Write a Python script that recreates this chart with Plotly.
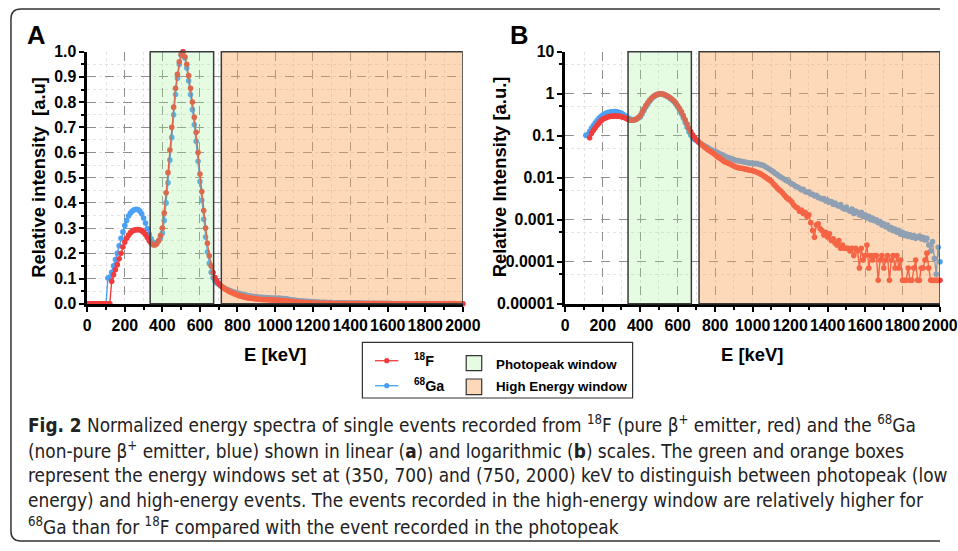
import plotly.graph_objects as go

# ---------------- data ----------------
energy_kev = list(range(0, 2001, 10))

# 18F (red)
f18_zero = [0.0] * 13  # 0..120 keV
f18_rise = [0.089, 0.115, 0.135, 0.155, 0.178, 0.2, 0.225, 0.245, 0.26, 0.272,
            0.282, 0.289, 0.292, 0.293, 0.294, 0.293, 0.29, 0.284, 0.275, 0.263,
            0.25, 0.24, 0.234, 0.233, 0.238, 0.25, 0.27]  # 130..390
f18_peak = [0.30, 0.36, 0.44, 0.52, 0.61, 0.70, 0.78, 0.855, 0.91, 0.96,
            0.99, 1.0, 0.98, 0.95, 0.905, 0.855, 0.8, 0.74, 0.68, 0.6,
            0.515, 0.445, 0.37, 0.3, 0.24, 0.19, 0.15, 0.124, 0.104, 0.09,
            0.08]  # 400..700
f18_tail = [0.072, 0.065, 0.06, 0.055, 0.051, 0.047, 0.044, 0.041, 0.038, 0.035,
            0.032, 0.03, 0.028, 0.026, 0.024, 0.023, 0.022, 0.021, 0.02, 0.019,
            0.018, 0.0175, 0.017, 0.0168, 0.0165, 0.016, 0.0158, 0.0152, 0.015, 0.0146,
            0.0142, 0.0136, 0.013, 0.0125, 0.0118, 0.011, 0.0102, 0.0095, 0.0088, 0.0082,
            0.0072, 0.0065, 0.0058, 0.0052, 0.0048, 0.0043, 0.0038, 0.0034, 0.0031, 0.0029,
            0.0026, 0.0022, 0.002, 0.0019, 0.0016, 0.0017, 0.0014, 0.0015, 0.0012, 0.0013,
            0.00085, 0.00055, 0.00038, 0.00075, 0.0008, 0.00062, 0.00055, 0.00043, 0.0005, 0.00039,
            0.00046, 0.00032, 0.00035, 0.00028, 0.00025, 0.00032, 0.00021, 0.00025, 0.00021, 0.00021,
            0.00021, 0.00018, 0.00021, 0.00014, 0.00021, 0.00018, 0.000071, 0.00021, 0.00011, 0.00014,
            0.00025, 0.000071, 0.00014, 0.00011, 0.00014, 0.00014, 0.000036, 0.00011, 0.00014, 0.000071,
            0.00011, 0.00014, 0.000036, 0.00011, 0.00014, 0.000071, 0.00014, 0.000071, 0.00011, 0.000036,
            0.000036, 0.000036, 0.000071, 0.000036, 0.000036, 0.000071, 0.00011, 0.000036, 0.000036, 0.000071,
            0.000071, 0.00011, 0.00016, 0.000071, 0.000036, 0.000036, 0.000036, 0.000036, 0.000036, 0.000036]  # 710..2000

# 68Ga (blue)
ga68_zero = [0.0] * 11  # 0..100 keV
ga68_rise = [0.102, 0.106, 0.125, 0.15, 0.175, 0.2, 0.23, 0.26, 0.285, 0.31,
             0.33, 0.348, 0.36, 0.368, 0.373, 0.375, 0.374, 0.368, 0.357, 0.34,
             0.32, 0.298, 0.275, 0.258, 0.245, 0.24, 0.242, 0.25, 0.263]  # 110..390
ga68_peak = [0.28, 0.33, 0.4, 0.48, 0.57, 0.66, 0.75, 0.83, 0.895, 0.95,
             0.985, 1.0, 0.975, 0.935, 0.885, 0.83, 0.77, 0.71, 0.645, 0.565,
             0.485, 0.41, 0.335, 0.265, 0.205, 0.16, 0.125, 0.103, 0.09, 0.082,
             0.077]  # 400..700
ga68_tail = [0.072, 0.067, 0.062, 0.058, 0.055, 0.052, 0.049, 0.046, 0.044, 0.042,
             0.04, 0.038, 0.036, 0.035, 0.033, 0.031, 0.03, 0.029, 0.028, 0.027,
             0.026, 0.0255, 0.025, 0.0245, 0.024, 0.0235, 0.023, 0.0225, 0.022, 0.0222,
             0.0215, 0.022, 0.021, 0.0205, 0.02, 0.0195, 0.018, 0.017, 0.0158, 0.0148,
             0.014, 0.0128, 0.012, 0.011, 0.0104, 0.0097, 0.0092, 0.0085, 0.0082, 0.0076,
             0.0072, 0.0068, 0.0062, 0.006, 0.0056, 0.0052, 0.0053, 0.0047, 0.0045, 0.0046,
             0.0041, 0.004, 0.0037, 0.0038, 0.0034, 0.0033, 0.0031, 0.0032, 0.0028, 0.0029,
             0.0026, 0.0027, 0.0023, 0.0025, 0.0022, 0.0021, 0.0023, 0.0019, 0.0018, 0.002,
             0.0017, 0.0016, 0.0018, 0.0014, 0.0016, 0.0015, 0.0013, 0.0015, 0.0012, 0.0013,
             0.0011, 0.0012, 0.001, 0.0011, 0.00095, 0.001, 0.00085, 0.0009, 0.00075, 0.0008,
             0.00068, 0.00075, 0.0006, 0.00065, 0.00055, 0.0006, 0.0005, 0.00056, 0.00045, 0.0005,
             0.00042, 0.00046, 0.0004, 0.00044, 0.00038, 0.00042, 0.00036, 0.00039, 0.00041, 0.00035,
             0.00038, 0.00033, 0.00036, 0.00025, 0.00018, 0.0003, 0.00012, 0.00005, 0.00022, 0.0001]  # 710..2000

f18 = f18_zero + f18_rise + f18_peak + f18_tail
ga68 = ga68_zero + ga68_rise + ga68_peak + ga68_tail
assert len(f18) == len(energy_kev) == len(ga68)

# windows drawn in the figure [keV]
photopeak_window = (335, 673)
high_energy_window = (714, 2000)

x_ticks = list(range(0, 2001, 200))
lin_ticks = [round(0.1 * i, 1) for i in range(11)]
log_ticks = [1e-5, 1e-4, 1e-3, 1e-2, 1e-1, 1, 10]
log_ticktext = ["0.00001", "0.0001", "0.001", "0.01", "0.1", "1", "10"]
log_minor = [5e-5, 5e-4, 5e-3, 5e-2, 5e-1, 5]

# ---------------- layout helpers ----------------
W, H = 958, 551
# the page is photographed slightly scaled: final = offset + scale * page
SX, OX = 0.9823, 3.0
SY, OY = 0.9691, 9.0
S = (SX + SY) / 2

def X(t):
    """paper x for a target pixel in the photographed image"""
    return min(1.0, max(0.0, ((t - OX) / SX) / W))

def Y(t):
    """paper y for a target pixel (from top) in the photographed image"""
    return min(1.0, max(0.0, 1 - ((t - OY) / SY) / H))

def fs(size):
    return size / S

RED = "#f23c3c"
BLUE = "#4aa0f5"
FONT = "Liberation Sans, Arial, sans-serif"
CAPFONT = "DejaVu Sans Condensed, Liberation Sans Narrow, sans-serif"
GREEN_FILL = "rgba(150,240,140,0.25)"
ORANGE_FILL = "rgba(250,160,80,0.40)"
EDGE = "#3a3a3a"

fig = go.Figure()

panels = [("x", "y", False), ("x2", "y2", True)]
for xa, ya, logy in panels:
    g = [v if (v > 0 or not logy) else None for v in ga68]
    r = [v if (v > 0 or not logy) else None for v in f18]
    fig.add_trace(go.Scatter(x=energy_kev, y=g, xaxis=xa, yaxis=ya, mode="lines+markers",
                             line=dict(color=BLUE, width=1.4), marker=dict(color=BLUE, size=5.6),
                             cliponaxis=False, showlegend=False, name="68Ga"))
    fig.add_trace(go.Scatter(x=energy_kev, y=r, xaxis=xa, yaxis=ya, mode="lines+markers",
                             line=dict(color=RED, width=1.4), marker=dict(color=RED, size=5.6),
                             cliponaxis=False, showlegend=False, name="18F"))

common_axis = dict(showline=True, linecolor="black", linewidth=2.6, ticks="outside",
                   ticklen=5, tickwidth=2, tickcolor="black", zeroline=False, tickangle=0,
                   showgrid=True, gridcolor="#8f8f8f", griddash="dash", gridwidth=1,
                   tickfont=dict(family=FONT, size=fs(15.5), color="black", weight="bold"))

xdom_a = [X(86.7), X(464.3)]
xdom_b = [X(567.3), X(944.3)]
ydom = [Y(304.7), Y(52.7)]

minor_grid = dict(ticks="outside", ticklen=3, tickwidth=1.5, tickcolor="black",
                  showgrid=True, gridcolor="#e3e3e3", griddash="dot", gridwidth=1)

fig.update_layout(
    width=W, height=H, margin=dict(l=0, r=0, t=0, b=0), autosize=False,
    paper_bgcolor="white", plot_bgcolor="white", showlegend=False,
    xaxis=dict(domain=xdom_a, anchor="y", range=[0, 2000], tickvals=x_ticks,
               minor=dict(dtick=100, **minor_grid), **common_axis),
    yaxis=dict(domain=ydom, anchor="x", range=[0, 1], tickvals=lin_ticks, tickformat=".1f",
               minor=dict(dtick=0.05, **minor_grid), **common_axis),
    xaxis2=dict(domain=xdom_b, anchor="y2", range=[0, 2000], tickvals=x_ticks,
                minor=dict(dtick=100, **minor_grid), **common_axis),
    yaxis2=dict(domain=ydom, anchor="x2", type="log", range=[-5, 1], tickvals=log_ticks,
                ticktext=log_ticktext, minor=dict(tickvals=log_minor, **minor_grid), **common_axis),
)

shapes = []
for xr, yr in [("x", "y domain"), ("x2", "y2 domain")]:
    shapes.append(dict(type="rect", xref=xr, yref=yr, x0=photopeak_window[0], x1=photopeak_window[1],
                       y0=0, y1=1, fillcolor=GREEN_FILL, line=dict(color=EDGE, width=1.5), layer="above"))
    shapes.append(dict(type="rect", xref=xr, yref=yr, x0=high_energy_window[0], x1=high_energy_window[1],
                       y0=0, y1=1, fillcolor=ORANGE_FILL, line=dict(color=EDGE, width=1.5), layer="above"))

# rounded outer frame (right side runs off the page)
fl, ft, fb, rr = 10, 10, 542, 10
frame_path = (f"M 1.0 {Y(ft)} L {X(fl + rr)} {Y(ft)} "
              f"Q {X(fl)} {Y(ft)} {X(fl)} {Y(ft + rr)} "
              f"L {X(fl)} {Y(fb - rr)} Q {X(fl)} {Y(fb)} {X(fl + rr)} {Y(fb)} "
              f"L 1.0 {Y(fb)}")
shapes.append(dict(type="path", xref="paper", yref="paper", path=frame_path,
                   line=dict(color="#333333", width=1.5)))

# legend box
shapes.append(dict(type="rect", xref="paper", yref="paper", x0=X(363.3), x1=X(635), y0=Y(399), y1=Y(343.3),
                   line=dict(color="#333333", width=1.2), fillcolor="white"))
for yy, col in [(361.7, RED), (386.7, BLUE)]:
    shapes.append(dict(type="line", xref="paper", yref="paper", x0=X(376), x1=X(399.5), y0=Y(yy), y1=Y(yy),
                       line=dict(color=col, width=1.3)))
    shapes.append(dict(type="circle", xref="paper", yref="paper", x0=X(385.2), x1=X(390.4),
                       y0=Y(yy + 2.6), y1=Y(yy - 2.6), fillcolor=col, line=dict(color=col, width=0)))
shapes.append(dict(type="rect", xref="paper", yref="paper", x0=X(467.7), x1=X(483.3), y0=Y(371.7), y1=Y(356.7),
                   fillcolor="#e5fbe2", line=dict(color="#333333", width=1.2)))
shapes.append(dict(type="rect", xref="paper", yref="paper", x0=X(467.7), x1=X(483.3), y0=Y(395.7), y1=Y(380),
                   fillcolor="#fdd9b9", line=dict(color="#333333", width=1.2)))
fig.update_layout(shapes=shapes)

ann = []
def add_text(text, x, y, size, xanchor="center", yanchor="middle", angle=0, family=FONT, bold=True, color="black"):
    ann.append(dict(text=text, x=X(x), y=Y(y), xref="paper", yref="paper", showarrow=False,
                    xanchor=xanchor, yanchor=yanchor, textangle=angle,
                    font=dict(family=family, size=fs(size), color=color, weight="bold" if bold else "normal")))

add_text("A", 36, 36, 25)
add_text("B", 521, 36, 25)
add_text("Relative intensity  [a.u]", 37, 178, 18, angle=-90)
add_text("Relative Intensity [a.u.]", 501, 178, 18, angle=-90)
add_text("E [keV]", 276, 355, 18)
add_text("E [keV]", 756, 355, 18)
add_text("<sup>18</sup>F", 413, 361, 14, xanchor="left")
add_text("<sup>68</sup>Ga", 413, 386, 14, xanchor="left")
add_text("Photopeak window", 495.7, 365, 13, xanchor="left")
add_text("High Energy window", 495.7, 387, 13, xanchor="left")

caption = [
    "<b>Fig. 2</b> Normalized energy spectra of single events recorded from <sup>18</sup>F (pure β<sup>+</sup> emitter, red) and the <sup>68</sup>Ga",
    "(non-pure β<sup>+</sup> emitter, blue) shown in linear (<b>a</b>) and logarithmic (<b>b</b>) scales. The green and orange boxes",
    "represent the energy windows set at (350, 700) and (750, 2000) keV to distinguish between photopeak (low",
    "energy) and high-energy events. The events recorded in the high-energy window are relatively higher for",
    "<sup>68</sup>Ga than for <sup>18</sup>F compared with the event recorded in the photopeak",
]
for i, line in enumerate(caption):
    add_text(line, 25, 425 + i * 25.6, 18.4, xanchor="left", family=CAPFONT, bold=False, color="#222222")

fig.update_layout(annotations=ann)

pin_js = ("document.documentElement.style.margin='0';document.body.style.margin='0';"
          "document.body.style.overflow='hidden';"
          "var d=document.querySelector('.plotly-graph-div');"
          "d.style.position='fixed';d.style.left='0px';d.style.top='0px';")
fig.write_html("out.html", config={"displayModeBar": False}, post_script=pin_js)
